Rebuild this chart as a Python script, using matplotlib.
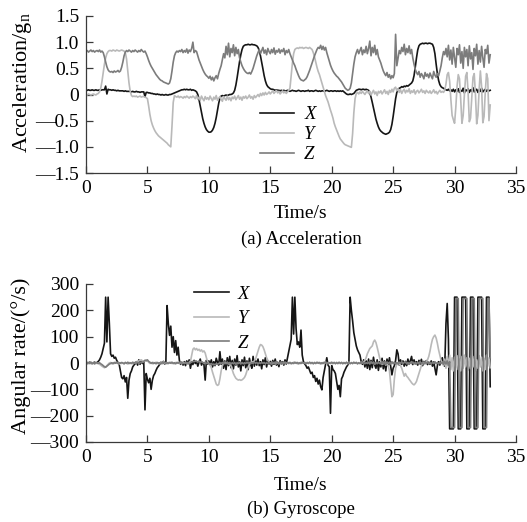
"""Triaxial accelerometer and gyroscope readings over a 33 s trial."""

import matplotlib.pyplot as plt
import numpy as np

plt.rcParams['font.family'] = 'Liberation Serif'
plt.rcParams['mathtext.fontset'] = 'custom'
plt.rcParams['mathtext.rm'] = 'Liberation Serif'
plt.rcParams['mathtext.it'] = 'Liberation Serif:italic'

# Every row holds one second of samples, taken every 0.1 s.
acc_x = [
    [0.08, 0.08, 0.09, 0.08, 0.08, 0.09, 0.08, 0.08, 0.09, 0.08],
    [0.08, 0.09, 0.08, 0.09, 0.09, 0.09, 0.16, 0.01, 0.10, 0.09],
    [0.09, 0.08, 0.09, 0.08, 0.08, 0.07, 0.08, 0.07, 0.07, 0.07],
    [0.07, 0.06, 0.07, 0.06, 0.06, 0.06, 0.06, 0.05, 0.06, 0.05],
    [0.05, 0.06, 0.05, 0.05, 0.04, 0.05, 0.05, 0.05, -0.04, 0.04],
    [0.04, 0.03, 0.03, 0.02, 0.02, 0.01, 0.01, 0.00, 0.01, 0.00],
    [0.00, -0.01, 0.00, -0.01, -0.01, 0.00, -0.01, -0.01, 0.00, 0.00],
    [0.01, 0.02, 0.03, 0.04, 0.05, 0.06, 0.07, 0.08, 0.09, 0.09],
    [0.10, 0.09, 0.10, 0.09, 0.09, 0.10, 0.08, 0.09, 0.08, 0.07],
    [0.05, 0.00, -0.10, -0.22, -0.35, -0.46, -0.55, -0.62, -0.67, -0.70],
    [-0.72, -0.72, -0.71, -0.68, -0.63, -0.55, -0.44, -0.31, -0.17, -0.07],
    [-0.03, -0.02, -0.03, -0.02, -0.01, -0.02, -0.01, 0.00, 0.00, 0.01],
    [0.03, 0.08, 0.18, 0.32, 0.48, 0.63, 0.76, 0.86, 0.92, 0.94],
    [0.95, 0.95, 0.96, 0.95, 0.95, 0.96, 0.95, 0.95, 0.94, 0.93],
    [0.90, 0.84, 0.74, 0.62, 0.49, 0.36, 0.26, 0.19, 0.15, 0.13],
    [0.11, 0.10, 0.10, 0.09, 0.08, 0.09, 0.08, 0.08, 0.07, 0.08],
    [0.07, 0.08, 0.07, 0.07, 0.08, 0.07, 0.06, 0.07, 0.08, 0.07],
    [0.07, 0.06, 0.07, 0.08, 0.07, 0.06, 0.07, 0.07, 0.06, 0.07],
    [0.07, 0.08, 0.06, 0.07, 0.07, 0.06, 0.07, 0.08, 0.07, 0.06],
    [0.07, 0.06, 0.07, 0.07, 0.06, 0.07, 0.08, 0.07, 0.06, 0.07],
    [0.07, 0.06, 0.07, 0.07, 0.06, 0.07, 0.06, 0.07, 0.06, 0.07],
    [0.05, 0.03, 0.01, 0.00, 0.00, 0.01, 0.00, 0.01, 0.02, 0.05],
    [0.08, 0.09, 0.10, 0.10, 0.09, 0.10, 0.10, 0.09, 0.10, 0.09],
    [0.08, 0.04, -0.05, -0.15, -0.26, -0.37, -0.47, -0.55, -0.62, -0.67],
    [-0.70, -0.72, -0.74, -0.75, -0.76, -0.75, -0.74, -0.72, -0.67, -0.57],
    [-0.42, -0.25, -0.08, 0.04, 0.10, 0.12, 0.13, 0.15, 0.14, 0.16],
    [0.15, 0.17, 0.16, 0.18, 0.20, 0.22, 0.26, 0.36, 0.52, 0.70],
    [0.85, 0.93, 0.96, 0.97, 0.98, 0.97, 0.98, 0.98, 0.97, 0.98],
    [0.98, 0.97, 0.96, 0.90, 0.78, 0.58, 0.40, 0.27, 0.19, 0.15],
    [0.13, 0.12, 0.10, 0.09, 0.08, 0.10, 0.07, 0.09, 0.06, 0.10],
    [0.05, 0.09, 0.06, 0.11, 0.04, 0.08, 0.06, 0.12, 0.03, 0.09],
    [0.07, 0.11, 0.04, 0.09, 0.06, 0.13, 0.05, 0.08, 0.10, 0.04],
    [0.09, 0.06, 0.12, 0.05, 0.08, 0.10, 0.06, 0.09, 0.07, 0.08],
]

acc_y = [
    [0.00, -0.01, 0.01, 0.00, -0.01, 0.00, 0.01, 0.00, -0.01, 0.01],
    [0.02, 0.05, 0.12, 0.25, 0.42, 0.58, 0.70, 0.78, 0.82, 0.84],
    [0.84, 0.83, 0.85, 0.84, 0.83, 0.85, 0.84, 0.83, 0.84, 0.85],
    [0.84, 0.83, 0.80, 0.68, 0.45, 0.22, 0.06, -0.02, -0.04, -0.03],
    [-0.04, -0.03, -0.05, -0.04, -0.03, -0.05, -0.04, -0.04, -0.05, -0.06],
    [-0.08, -0.22, -0.38, -0.50, -0.58, -0.64, -0.69, -0.73, -0.76, -0.79],
    [-0.81, -0.83, -0.85, -0.87, -0.89, -0.91, -0.93, -0.96, -0.98, -1.00],
    [-0.60, -0.15, -0.02, -0.04, -0.05, -0.03, -0.06, -0.04, -0.05, -0.07],
    [-0.04, -0.06, -0.03, -0.05, -0.07, -0.04, -0.06, -0.03, -0.05, -0.08],
    [-0.02, -0.09, -0.05, -0.11, -0.03, -0.08, -0.12, -0.04, -0.09, -0.06],
    [-0.10, -0.03, -0.08, -0.12, -0.05, -0.09, -0.02, -0.11, -0.07, -0.04],
    [-0.09, -0.13, -0.04, -0.08, -0.11, -0.03, -0.10, -0.06, -0.12, -0.05],
    [-0.08, -0.03, -0.10, -0.06, -0.02, -0.09, -0.05, -0.11, -0.04, -0.07],
    [-0.03, -0.08, -0.05, -0.01, -0.07, -0.04, -0.09, -0.02, -0.06, -0.03],
    [0.00, -0.04, 0.02, -0.02, 0.03, -0.01, 0.04, 0.00, 0.02, 0.05],
    [0.01, 0.04, 0.07, 0.02, 0.05, 0.08, 0.03, 0.06, 0.01, 0.04],
    [0.07, 0.03, 0.06, 0.02, 0.05, 0.08, 0.12, 0.35, 0.60, 0.78],
    [0.86, 0.88, 0.89, 0.88, 0.90, 0.89, 0.90, 0.88, 0.89, 0.90],
    [0.89, 0.88, 0.90, 0.88, 0.86, 0.80, 0.72, 0.62, 0.52, 0.44],
    [0.38, 0.30, 0.22, 0.14, 0.06, -0.02, -0.08, -0.14, -0.22, -0.30],
    [-0.37, -0.45, -0.55, -0.62, -0.68, -0.74, -0.80, -0.85, -0.88, -0.91],
    [-0.94, -0.96, -0.97, -0.98, -0.99, -1.00, -1.01, -0.75, -0.35, -0.08],
    [0.02, 0.04, 0.01, 0.05, 0.02, 0.06, 0.03, 0.00, 0.04, 0.07],
    [0.02, 0.06, -0.01, 0.04, 0.08, 0.01, 0.05, -0.02, 0.06, 0.03],
    [0.07, 0.01, 0.05, 0.09, 0.02, 0.06, 0.00, 0.08, 0.04, 0.10],
    [0.05, 0.12, 0.14, 0.07, 0.11, 0.04, 0.09, 0.02, 0.07, 0.10],
    [0.03, 0.08, 0.05, 0.11, 0.02, 0.07, 0.04, 0.09, 0.01, 0.06],
    [0.08, 0.03, 0.06, 0.10, 0.04, 0.07, 0.02, 0.08, 0.05, 0.03],
    [0.07, 0.02, 0.05, 0.09, 0.03, 0.06, 0.01, 0.05, 0.08, 0.04],
    [0.06, 0.04, 0.08, 0.20, 0.38, 0.42, 0.25, -0.10, -0.40, -0.48],
    [-0.55, -0.25, 0.15, 0.38, 0.30, -0.10, -0.55, -0.40, 0.00, 0.35],
    [0.42, 0.05, -0.52, -0.45, -0.05, 0.33, 0.40, 0.00, -0.56, -0.40],
    [0.10, 0.45, 0.15, -0.54, -0.42, 0.05, 0.40, 0.30, -0.50, -0.20],
]

acc_z = [
    [0.82, 0.84, 0.81, 0.83, 0.85, 0.82, 0.84, 0.81, 0.83, 0.84],
    [0.82, 0.85, 0.81, 0.83, 0.80, 0.72, 0.62, 0.53, 0.47, 0.44],
    [0.43, 0.44, 0.42, 0.45, 0.43, 0.44, 0.46, 0.43, 0.45, 0.52],
    [0.62, 0.74, 0.81, 0.84, 0.82, 0.85, 0.83, 0.81, 0.84, 0.82],
    [0.85, 0.83, 0.81, 0.84, 0.82, 0.86, 0.83, 0.81, 0.83, 0.78],
    [0.72, 0.65, 0.59, 0.54, 0.50, 0.46, 0.42, 0.38, 0.35, 0.32],
    [0.29, 0.27, 0.26, 0.24, 0.23, 0.22, 0.21, 0.20, 0.22, 0.30],
    [0.45, 0.62, 0.74, 0.80, 0.83, 0.81, 0.84, 0.82, 0.86, 0.80],
    [0.84, 0.81, 0.87, 0.79, 0.85, 0.82, 0.88, 1.00, 0.80, 0.84],
    [0.82, 0.74, 0.66, 0.60, 0.54, 0.48, 0.43, 0.39, 0.36, 0.34],
    [0.31, 0.35, 0.28, 0.33, 0.26, 0.32, 0.36, 0.30, 0.40, 0.48],
    [0.55, 0.66, 0.78, 0.70, 0.92, 0.76, 0.98, 0.72, 0.88, 0.80],
    [0.95, 0.74, 0.90, 0.78, 0.86, 0.70, 0.62, 0.55, 0.50, 0.46],
    [0.43, 0.41, 0.40, 0.42, 0.39, 0.44, 0.50, 0.58, 0.66, 0.74],
    [0.80, 0.86, 0.78, 0.84, 0.90, 0.79, 0.85, 0.76, 0.88, 0.82],
    [0.78, 0.86, 0.80, 0.89, 0.77, 0.84, 0.81, 0.87, 0.79, 0.85],
    [0.82, 0.88, 0.76, 0.84, 0.80, 0.86, 0.78, 0.72, 0.66, 0.60],
    [0.55, 0.48, 0.42, 0.36, 0.31, 0.28, 0.27, 0.26, 0.28, 0.30],
    [0.34, 0.40, 0.46, 0.53, 0.60, 0.67, 0.74, 0.80, 0.86, 0.90],
    [0.88, 0.94, 0.86, 0.92, 0.85, 0.90, 0.80, 0.72, 0.64, 0.56],
    [0.50, 0.45, 0.41, 0.38, 0.35, 0.33, 0.30, 0.27, 0.24, 0.20],
    [0.16, 0.12, 0.10, 0.08, 0.09, 0.12, 0.22, 0.40, 0.58, 0.72],
    [0.80, 0.86, 0.78, 0.84, 0.90, 0.76, 0.85, 0.80, 0.92, 0.78],
    [0.88, 1.02, 0.74, 0.90, 0.80, 0.94, 0.76, 0.86, 0.72, 0.66],
    [0.60, 0.52, 0.45, 0.40, 0.36, 0.42, 0.33, 0.38, 0.30, 0.36],
    [0.32, 0.40, 1.15, 0.55, 0.70, 0.84, 0.78, 0.90, 0.82, 0.96],
    [0.76, 0.88, 0.80, 0.93, 0.78, 0.86, 0.70, 0.58, 0.48, 0.42],
    [0.38, 0.44, 0.33, 0.40, 0.36, 0.30, 0.42, 0.35, 0.39, 0.32],
    [0.41, 0.35, 0.30, 0.44, 0.37, 0.33, 0.40, 0.36, 0.45, 0.55],
    [0.70, 0.82, 0.76, 0.88, 0.72, 0.94, 0.66, 0.85, 0.58, 0.90],
    [0.70, 0.52, 0.88, 0.76, 0.95, 0.60, 0.82, 0.50, 0.90, 0.72],
    [0.86, 0.55, 0.93, 0.68, 0.80, 0.48, 0.88, 0.74, 0.96, 0.58],
    [0.84, 0.62, 0.92, 0.70, 0.52, 0.86, 0.78, 0.94, 0.60, 0.76],
]

gyro_x = [
    [0, 2, -1, 3, 0, -2, 1, 3, -1, 2],
    [6, 12, 22, 35, 55, 75, 250, 80, 250, 150],
    [35, 25, 30, 18, 22, 10, 2, -5, -30, -55],
    [-60, -48, -72, -55, -134, -65, -40, -30, -15, -8],
    [-3, 5, -8, 12, -5, 8, -2, 4, -178, -40],
    [-62, -75, -58, -100, -66, -48, -40, -28, -18, -12],
    [-5, 3, -2, 6, -4, 2, 218, 150, 105, 140],
    [60, 100, 40, 85, 30, 60, 10, -5, 3, -8],
    [5, -10, 8, -3, 12, -20, 4, -6, 10, -2],
    [6, -12, 3, 15, -8, 2, -5, -65, 10, -4],
    [8, -6, 12, -15, 5, -10, 18, 3, -8, 43],
    [-5, 15, -20, 8, -25, 20, -10, 25, -18, 10],
    [-22, 15, -8, 28, -15, 5, -30, 12, -10, 22],
    [-18, 8, -25, 18, -5, -20, 25, -12, 10, -8],
    [15, -10, 5, -22, 12, -6, 20, -15, 8, -4],
    [6, -12, 10, -5, 15, -8, 3, -14, 9, -3],
    [5, -8, 12, -4, 20, 45, 70, 90, 250, 110],
    [250, 130, 70, 80, 60, 125, 30, 5, -3, -10],
    [-20, -15, -28, -40, -35, -55, -48, -70, -58, -80],
    [-65, -90, -102, -55, -30, -5, 20, -8, -15, -191],
    [-10, -25, -30, -40, -70, -100, -85, -128, -60, -50],
    [-35, -25, -15, -8, 2, 250, 200, 160, 115, 90],
    [65, 50, 40, 30, 5, -5, 12, -15, 8, -20],
    [15, -25, 10, -18, 22, -8, -20, 12, -28, 5],
    [-15, 18, -22, 8, -30, 15, -10, 20, -12, -45],
    [-20, -10, 10, 50, 35, -8, 12, -5, 8, -12],
    [6, -10, 15, -4, 8, 25, -6, 12, -3, 5],
    [-8, 10, -4, 14, -10, 6, -2, 9, -6, 3],
    [-5, 8, -12, 4, -20, -45, -10, 5, -8, 12],
    [20, -5, -12, 150, 226, 90, -250, -250, -250, -250],
    [250, 250, 250, -250, -250, -250, 250, 250, 250, 250],
    [-250, -250, -250, 250, 250, 250, -250, -250, -250, 250],
    [250, 250, 250, -250, -250, -250, 250, 250, 250, -90],
]

gyro_y = [
    [2, -3, 1, -2, 3, -1, 2, -4, 1, -2],
    [0, -5, -8, -12, -15, -18, -15, -10, -5, 0],
    [2, -3, 1, -2, 3, -1, 2, -4, 1, -2],
    [1, -3, 2, -1, -4, 2, -2, 1, -3, 2],
    [0, 3, 5, 8, 10, 12, 8, 5, 10, 12],
    [8, 3, -2, 1, -3, 2, -1, 3, -2, 1],
    [-3, 2, -1, 4, -2, 1, -3, 2, 0, 3],
    [-2, 1, -3, 2, -1, 3, -2, 1, -3, 2],
    [-1, 3, -2, 0, 2, 6, 30, 52, 57, 50],
    [55, 48, 52, 45, 50, 42, 46, 38, 20, 5],
    [-2, -8, -18, -35, -50, -65, -80, -85, -82, -60],
    [-30, -10, -2, 3, -1, 2, -3, -2, -10, -25],
    [-40, -50, -58, -62, -65, -63, -66, -64, -60, -55],
    [-45, -30, -15, -5, 2, 5, 3, 8, 15, 30],
    [45, 60, 70, 68, 62, 50, 35, 20, 10, 3],
    [0, -3, 2, -1, 3, -2, 1, -3, 2, -1],
    [2, -2, 3, -1, 1, -3, 2, 0, -2, 3],
    [-1, 2, -3, 1, -2, 3, 0, -1, 2, -2],
    [3, -1, 2, -3, 1, -2, 3, -1, 0, 2],
    [-2, 1, -3, 2, -1, 3, -2, 1, -1, 2],
    [0, -3, 2, -1, 3, -2, 1, -3, 2, 0],
    [2, -2, 1, -3, 3, -1, 2, -2, 1, -1],
    [2, -3, 1, -2, 3, 0, 4, 10, 20, 35],
    [45, 55, 60, 65, 80, 87, 78, 60, 40, 20],
    [5, -5, -2, 3, -8, -4, -10, -30, -80, -128],
    [-120, -60, -20, -5, 2, -3, -10, -20, -35, -50],
    [-40, -50, -55, -62, -68, -75, -80, -83, -78, -70],
    [-55, -40, -25, -10, 0, 3, -2, 5, 12, 25],
    [45, 70, 90, 100, 106, 95, 75, 50, 30, 10],
    [0, -10, 15, -20, 25, -15, 30, -25, 20, -30],
    [22, -18, 28, -25, 15, -30, 25, -20, 30, -15],
    [20, -28, 18, -22, 30, -15, 25, -30, 12, -20],
    [28, -15, 22, -30, 18, -25, 30, -12, 20, -18],
]

gyro_z = [
    [1, -2, 2, -1, 3, -2, 1, -3, 2, 0],
    [-2, 1, -3, -6, -10, -14, -16, -12, -8, -4],
    [-2, 1, -3, 2, -1, 3, -2, 1, -1, 2],
    [0, -3, 2, -1, 3, -2, 1, -2, 3, -1],
    [2, -1, 3, -2, 1, 4, 2, 6, 10, 8],
    [12, 6, 3, -1, 2, -2, 1, -3, 2, -1],
    [1, -3, 2, -1, 3, -2, 1, -2, 2, -1],
    [3, -2, 1, -3, 2, -1, 3, -2, 1, -1],
    [-2, 3, -1, 2, -3, 1, 4, 6, 5, 8],
    [6, 4, 7, 3, 5, 2, -1, 3, -2, 1],
    [-3, -5, -2, -6, -4, -7, -3, -5, -2, 1],
    [-2, 2, -4, 1, -3, 3, -5, 2, -4, 1],
    [-3, 2, -5, 1, -2, 3, -4, 2, -3, 1],
    [-2, 3, -1, 2, -3, 1, -2, 3, -1, 2],
    [-3, 1, -2, 3, -1, 2, -3, 1, -2, 2],
    [1, -2, 3, -1, 2, -3, 1, -2, 3, -1],
    [2, -3, 1, -2, 3, -1, 2, -3, 1, -2],
    [3, -1, 2, -3, 1, -2, 3, -1, 2, -3],
    [1, -2, 3, -1, 2, -3, 1, -2, 3, -1],
    [2, -3, 1, -2, 3, -1, 2, -3, 1, -2],
    [3, -1, 2, -3, 1, -2, 3, -1, 2, -3],
    [1, -2, 3, -1, 2, -3, 1, -2, 3, -1],
    [2, -3, 1, -2, 3, -1, 2, -3, 1, -2],
    [3, -4, 5, -2, 4, -5, 3, -3, 4, -2],
    [-3, 5, -4, 2, -5, 4, -2, 3, -4, 5],
    [-3, 4, -5, 2, -4, 3, -2, 5, -3, 2],
    [4, -3, 2, -5, 3, -2, 4, -3, 2, -4],
    [3, -2, 5, -3, 2, -4, 3, -2, 4, -3],
    [2, -4, 3, -2, 5, -3, 2, -4, 3, -2],
    [3, -5, 6, -4, 8, -10, 5, -245, -245, -245],
    [-245, 245, 245, 245, -245, -245, -245, 245, 245, 245],
    [245, -245, -245, -245, 245, 245, 245, -245, -245, -245],
    [245, 245, 245, 245, -245, -245, -245, 245, 245, 20],
]

acc_ticks = [-1.5, -1.0, -0.5, 0, 0.5, 1.0, 1.5]
acc_tick_labels = ['\u20141.5', '\u20141.0', '\u20140.5', '0', '0.5', '1.0', '1.5']
gyro_ticks = [-300, -200, -100, 0, 100, 200, 300]
gyro_tick_labels = ['\u2014300', '\u2014200', '\u2014100', '0', '100', '200', '300']
time_ticks = [0, 5, 10, 15, 20, 25, 30, 35]

axis_names = ['X', 'Y', 'Z']
line_colors = ['#151515', '#b9b9b9', '#7c7c7c']

FS = 13.5
TICK_FS = 14
YLABEL_FS = 16


def series(rows):
    """Turn per-second rows into time and value arrays."""
    t = [sec + 0.1 * i for sec, row in enumerate(rows) for i in range(len(row))]
    v = [val for row in rows for val in row]
    return np.array(t), np.array(v)


def style_axes(ax, yticks, ylabels, ylim):
    """Left/bottom spines only, ticks pointing inward."""
    for side in ('top', 'right'):
        ax.spines[side].set_visible(False)
    for side in ('left', 'bottom'):
        ax.spines[side].set_color('#3a3a3a')
        ax.spines[side].set_linewidth(0.9)
    ax.set_xlim(0, 35)
    ax.set_ylim(*ylim)
    ax.set_xticks(time_ticks)
    ax.set_xticklabels([str(t) for t in time_ticks])
    ax.set_yticks(yticks)
    ax.set_yticklabels(ylabels)
    ax.tick_params(direction='in', length=5, width=0.9, color='#3a3a3a',
                   labelsize=TICK_FS, pad=5)


def draw_panel(ax, rows_list, legend_anchor, spacing, handle_len, text_pad):
    """Plot the three axes of one sensor and add the legend."""
    for rows, name, color in zip(rows_list, axis_names, line_colors):
        t, v = series(rows)
        ax.plot(t, v, color=color, lw=1.2, label=name)
    leg = ax.legend(loc='upper left', bbox_to_anchor=legend_anchor,
                    frameon=False, prop={'style': 'italic', 'size': FS},
                    handlelength=handle_len, handletextpad=text_pad,
                    labelspacing=spacing, borderpad=0, borderaxespad=0)
    for line in leg.get_lines():
        line.set_linewidth(1.2)


fig = plt.figure(figsize=(5.27, 5.22), dpi=100)
fig.patch.set_facecolor('white')

ax_acc = fig.add_axes([86 / 527, 1 - 173 / 522, 430 / 527, 157 / 522])
draw_panel(ax_acc, [acc_x, acc_y, acc_z], (0.405, 0.425), 0.15, 1.8, 0.55)
style_axes(ax_acc, acc_ticks, acc_tick_labels, (-1.5, 1.5))

ax_gyro = fig.add_axes([86 / 527, 1 - 442 / 522, 430 / 527, 158 / 522])
draw_panel(ax_gyro, [gyro_x, gyro_y, gyro_z], (0.25, 0.99), 0.4, 1.9, 0.45)
style_axes(ax_gyro, gyro_ticks, gyro_tick_labels, (-300, 300))

fig.text(22 / 527, 1 - 83 / 522, 'Acceleration/g$_\\mathrm{n}$', rotation=90,
         ha='center', va='center', fontsize=YLABEL_FS)
fig.text(21 / 527, 1 - 356 / 522, 'Angular rate/(\u00b0/s)', rotation=90,
         ha='center', va='center', fontsize=YLABEL_FS)

fig.text(301 / 527, 1 - 213 / 522, 'Time/s', ha='center', va='center',
         fontsize=14)
fig.text(301 / 527, 1 - 239 / 522, '(a) Acceleration', ha='center', va='center',
         fontsize=FS)
fig.text(301 / 527, 1 - 485 / 522, 'Time/s', ha='center', va='center',
         fontsize=14)
fig.text(301 / 527, 1 - 509 / 522, '(b) Gyroscope', ha='center', va='center',
         fontsize=FS)

fig.savefig('out.png', dpi=100)
